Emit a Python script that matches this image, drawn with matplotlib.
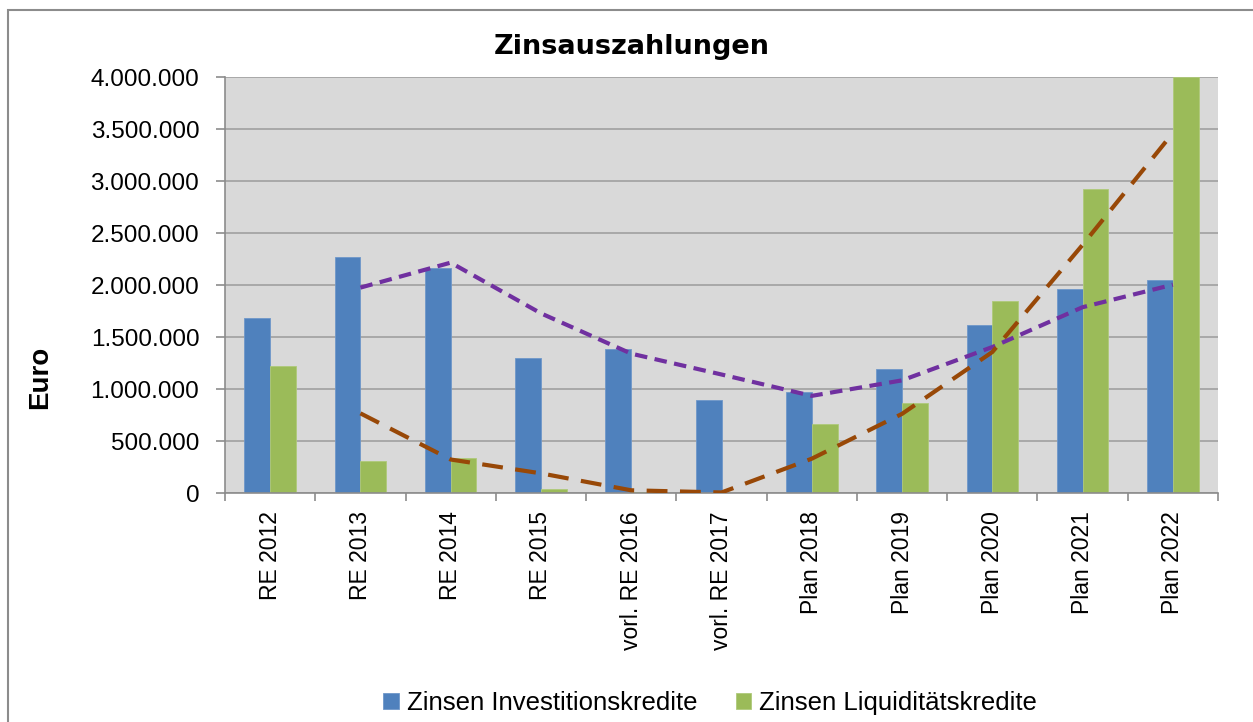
import numpy as np
import pandas as pd
import matplotlib
matplotlib.use("Agg")
import matplotlib.pyplot as plt
from matplotlib.ticker import FuncFormatter, MultipleLocator
from matplotlib.patches import Rectangle

plt.rcParams['font.family'] = ['Liberation Sans', 'DejaVu Sans']

categories = ['RE 2012', 'RE 2013', 'RE 2014', 'RE 2015', 'vorl. RE 2016', 'vorl. RE 2017',
              'Plan 2018', 'Plan 2019', 'Plan 2020', 'Plan 2021', 'Plan 2022']
invest = [1680000, 2270000, 2160000, 1295000, 1385000, 894000,
          974000, 1192000, 1615000, 1958000, 2048000]
liquid = [1224000, 308000, 336000, 42000, 10000, 0,
          660000, 862000, 1849000, 2923000, 4000000]

# gleitender Durchschnitt (2 Perioden), wie Excel-Trendlinie
invest_ma = pd.Series(invest).rolling(2).mean()
liquid_ma = pd.Series(liquid).rolling(2).mean()

fig = plt.figure(figsize=(12.53, 7.22), dpi=100)
fig.patches.append(Rectangle((8 / 1253, -0.05), 1.1, 1 - 10 / 722 + 0.05,
                             transform=fig.transFigure, fill=False,
                             edgecolor='#8c8c8c', linewidth=1.5))

ax = fig.add_axes([225 / 1253, 1 - 493 / 722, (1218 - 225) / 1253, (493 - 77) / 722])
ax.set_facecolor('#d9d9d9')

x = np.arange(len(categories))
w = 0.285
ax.bar(x - w / 2, invest, w, color='#4f81bd', edgecolor='#6f97c9', linewidth=0.6,
       label='Zinsen Investitionskredite', zorder=2)
ax.bar(x + w / 2, liquid, w, color='#9bbb59', edgecolor='#afc97a', linewidth=0.6,
       label='Zinsen Liquiditätskredite', zorder=2)

ax.plot(x, invest_ma, color='#7030a0', linewidth=3, dashes=(3, 1.8), zorder=3)
ax.plot(x, liquid_ma, color='#984807', linewidth=3, dashes=(5, 3), zorder=3)

ax.set_xlim(-0.5, len(categories) - 0.5)
ax.set_ylim(0, 4000000)
ax.yaxis.set_major_locator(MultipleLocator(500000))
ax.yaxis.set_major_formatter(FuncFormatter(lambda v, p: f"{int(v):,}".replace(',', '.')))
ax.grid(axis='y', color='#a0a0a0', linewidth=1.2, zorder=0)
ax.set_axisbelow(True)

ax.set_xticks(x)
ax.set_xticklabels(categories, rotation=90, fontsize=16.5)
ax.set_xticks(np.arange(-0.5, len(categories)), minor=True)
ax.tick_params(axis='x', which='major', length=0, pad=13)
ax.tick_params(axis='x', which='minor', length=6, color='#8c8c8c', width=1.2)
ax.tick_params(axis='y', labelsize=17.5, length=6.5, color='#8c8c8c', width=1.2, pad=12)

for s in ['top', 'right']:
    ax.spines[s].set_visible(False)
for s in ['left', 'bottom']:
    ax.spines[s].set_color('#8c8c8c')
    ax.spines[s].set_linewidth(1.2)

fig.text(632 / 1253, 1 - 54 / 722, 'Zinsauszahlungen', fontsize=19.5, fontweight='bold',
         family=['DejaVu Sans'], ha='center', va='baseline')
fig.text(40 / 1253, 1 - 377 / 722, 'Euro', rotation=90, fontsize=20, fontweight='bold',
         ha='center', va='center')

fig.legend(loc='center', bbox_to_anchor=(710 / 1253, 1 - 703 / 722), ncol=2, frameon=False,
           fontsize=18.5, handlelength=0.6, handleheight=0.6, handletextpad=0.3,
           columnspacing=1.5)

fig.savefig('out.png', dpi=100)
